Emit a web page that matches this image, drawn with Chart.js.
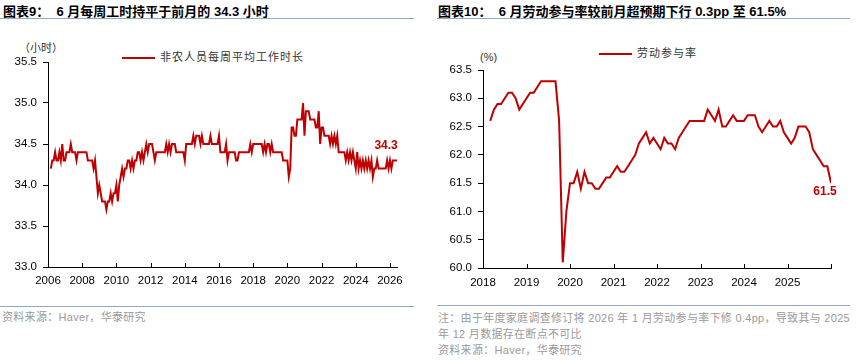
<!DOCTYPE html>
<html><head><meta charset="utf-8">
<script src="https://cdn.jsdelivr.net/npm/chart.js@4.4.1/dist/chart.umd.min.js"></script>
<style>
body{margin:0;width:860px;height:364px;background:#fff;position:relative;overflow:hidden;font-family:"Liberation Sans","Noto Sans CJK SC",sans-serif;}
.t{position:absolute;top:3px;font-family:"Liberation Sans","Noto Sans CJK SC",sans-serif;font-weight:bold;font-size:13px;color:#000;white-space:nowrap;line-height:18px;}
.rule{position:absolute;height:1px;background:#8fa9c2;}
.note{position:absolute;font-size:11px;color:#9a9a9a;white-space:nowrap;line-height:16px;letter-spacing:0.3px;}
.unit{position:absolute;font-size:11px;color:#333;white-space:nowrap;line-height:14px;}
.lg{position:absolute;font-size:11px;color:#333;white-space:nowrap;line-height:14px;letter-spacing:1px;}
.lgl{position:absolute;height:2px;background:#c00000;}
canvas{position:absolute;}
</style></head>
<body>
<div class="t" style="left:3px;">图表9：&nbsp; 6 月每周工时持平于前月的 34.3 小时</div>
<div class="rule" style="left:0;top:18px;width:414px;"></div>
<div class="t" style="left:438px;">图表10：&nbsp; 6 月劳动参与率较前月超预期下行 0.3pp 至 61.5%</div>
<div class="rule" style="left:437px;top:18px;width:413px;"></div>

<div class="unit" style="left:19px;top:41px;">（小时）</div>
<div class="lgl" style="left:122px;top:57px;width:33px;"></div>
<div class="lg" style="left:160px;top:50px;">非农人员每周平均工作时长</div>

<div class="unit" style="left:480px;top:50px;">(%)</div>
<div class="lgl" style="left:599px;top:53px;width:33px;"></div>
<div class="lg" style="left:637px;top:46px;">劳动参与率</div>

<canvas id="c1" width="410" height="250" style="left:0;top:40px;width:410px;height:250px;"></canvas>
<canvas id="c2" width="430" height="250" style="left:430px;top:40px;width:430px;height:250px;"></canvas>

<div class="rule" style="left:0;top:306px;width:414px;"></div>
<div class="note" style="left:2px;top:309px;">资料来源：Haver，华泰研究</div>
<div class="rule" style="left:437px;top:305px;width:413px;"></div>
<div class="note" style="left:438px;top:310px;">注：由于年度家庭调查修订将 2026 年 1 月劳动参与率下修 0.4pp，导致其与 2025</div>
<div class="note" style="left:438px;top:326px;">年 12 月数据存在断点不可比</div>
<div class="note" style="left:438px;top:342px;">资料来源：Haver，华泰研究</div>

<script>
// ---- Data: average weekly hours, monthly from Mar 2006 ----
const hoursStartYear = 2006, hoursStartMonth = 3;
const hoursValues = [
 34.2,34.3,34.3,34.4,34.3,34.3,34.4,34.3,34.5,34.3,
 34.3,34.4,34.4,34.4,34.5,34.4,34.4,34.4,34.3,34.4,34.4,34.4,
 34.4,34.4,34.4,34.4,34.3,34.3,34.3,34.3,34.2,34.3,34.1,33.9,
 34.0,33.9,33.8,33.8,33.8,33.7,33.8,33.8,33.9,33.8,33.9,33.9,
 34.0,33.8,34.0,34.1,34.2,34.1,34.2,34.2,34.3,34.3,34.2,34.3,
 34.2,34.3,34.3,34.4,34.4,34.3,34.4,34.3,34.4,34.5,34.4,34.5,
 34.5,34.5,34.4,34.3,34.4,34.4,34.4,34.4,34.4,34.4,34.4,34.5,
 34.4,34.5,34.4,34.5,34.5,34.5,34.4,34.4,34.4,34.4,34.4,34.4,
 34.3,34.5,34.5,34.5,34.5,34.5,34.6,34.5,34.6,34.6,34.6,34.5,
 34.6,34.5,34.5,34.5,34.5,34.5,34.6,34.5,34.5,34.5,34.5,34.5,
 34.6,34.4,34.4,34.4,34.4,34.5,34.3,34.4,34.4,34.4,34.4,34.4,
 34.3,34.3,34.4,34.4,34.4,34.4,34.4,34.4,34.4,34.4,34.5,34.4,
 34.5,34.5,34.5,34.5,34.5,34.5,34.5,34.4,34.5,34.4,34.5,34.5,
 34.4,34.5,34.4,34.4,34.4,34.4,34.4,34.4,34.4,34.3,34.3,34.3,
 34.3,34.1,34.2,34.7,34.7,34.6,34.6,34.8,34.8,34.8,34.8,35.0,
 34.6,34.9,34.9,34.9,34.8,34.8,34.8,34.8,34.7,34.7,34.9,34.5,
 34.7,34.7,34.6,34.6,34.6,34.6,34.5,34.6,34.5,34.6,34.5,34.6,
 34.4,34.4,34.4,34.4,34.4,34.3,34.4,34.3,34.4,34.3,34.4,34.3,
 34.2,34.4,34.2,34.3,34.2,34.3,34.2,34.3,34.2,34.3,34.2,34.3,
 34.1,34.2,34.2,34.3,34.2,34.2,34.2,34.2,34.2,34.2,34.3,34.2,
 34.3,34.2,34.3,34.3,34.3,34.3
];
const hoursYTicks = [33.0,33.5,34.0,34.5,35.0,35.5];
const hoursXTicks = [2006,2008,2010,2012,2014,2016,2018,2020,2022,2024,2026];

// ---- Data: labor force participation rate, monthly from Mar 2018 ----
const lfprStartYear = 2018, lfprStartMonth = 3;
const lfprValues = [
 62.6,62.8,62.9,62.9,63.0,63.1,63.1,63.0,62.8,62.9,
 63.0,63.1,63.1,63.2,63.3,63.3,63.3,63.3,63.3,62.6,60.1,61.0,
 61.5,61.5,61.7,61.4,61.7,61.5,61.5,61.4,61.4,61.5,61.6,61.6,
 61.7,61.8,61.7,61.7,61.8,61.9,62.0,62.2,62.3,62.4,62.2,62.3,
 62.2,62.1,62.3,62.2,62.2,62.1,62.3,62.4,62.5,62.6,62.6,62.6,
 62.6,62.6,62.8,62.7,62.6,62.8,62.5,62.5,62.6,62.7,62.6,62.6,
 62.6,62.7,62.7,62.7,62.5,62.4,62.5,62.6,62.5,62.5,62.6,62.4,
 62.3,62.2,62.3,62.5,62.5,62.5,62.4,62.1,62.0,61.9,61.8,61.8,
 61.5
];
const lfprYTicks = [60.0,60.5,61.0,61.5,62.0,62.5,63.0,63.5];
const lfprXTicks = [2018,2019,2020,2021,2022,2023,2024,2025,2026];
const lfprXLabels = ['2018','2019','2020','2021','2022','2023','2024','2025',''];

const RED = '#c00000';
const FONT = '"Liberation Sans", Arial, sans-serif';

function toPoints(startYear, startMonth, vals){
  return vals.map((v,i)=>({x: startYear + (startMonth - 1 + i)/12, y: v}));
}

const inTicks = {
  id:'inTicks',
  afterDraw(chart){
    const xs = chart.scales.x, ys = chart.scales.y, ctx = chart.ctx;
    ctx.save(); ctx.strokeStyle = '#000'; ctx.lineWidth = 1;
    xs.ticks.forEach(t=>{
      const px = Math.round(xs.getPixelForValue(t.value)) + 0.5;
      ctx.beginPath(); ctx.moveTo(px, ys.bottom); ctx.lineTo(px, ys.bottom - 4); ctx.stroke();
    });
    ctx.restore();
  }
};
const endLabel = {
  id:'endLabel',
  afterDatasetsDraw(chart, args, opts){
    const d = chart.data.datasets[0].data, last = d[d.length-1];
    const px = chart.scales.x.getPixelForValue(last.x), py = chart.scales.y.getPixelForValue(last.y);
    const ctx = chart.ctx; ctx.save();
    ctx.font = 'bold 12px ' + FONT; ctx.fillStyle = RED; ctx.textAlign = 'center'; ctx.textBaseline = 'middle';
    ctx.fillText(last.y.toFixed(1), px + opts.dx, py + opts.dy);
    ctx.restore();
  }
};

function makeChart(id, points, cfg){
  return new Chart(document.getElementById(id), {
    type:'line',
    data:{datasets:[{data:points, borderColor:RED, borderWidth:2, pointRadius:0, tension:0, fill:false}]},
    options:{
      responsive:false, animation:false, devicePixelRatio:1,
      layout:{padding:cfg.padding},
      plugins:{legend:{display:false}, tooltip:{enabled:false}, endLabel:cfg.label},
      scales:{
        x:{type:'linear', min:cfg.xmin, max:cfg.xmax,
           afterBuildTicks:s=>{s.ticks = cfg.xticks.map(v=>({value:v}));},
           afterFit:s=>{s.height = cfg.xh;},
           border:{display:true,color:'#000',width:1},
           grid:{drawOnChartArea:false, drawTicks:false},
           ticks:{padding:cfg.xpad, color:'#000', font:{family:FONT,size:11.5}, maxRotation:0, autoSkip:false,
                  callback:(v)=>cfg.xlabel(v)}},
        y:{type:'linear', min:cfg.ymin, max:cfg.ymax,
           afterBuildTicks:s=>{s.ticks = cfg.yticks.map(v=>({value:v}));},
           afterFit:s=>{s.width = cfg.yw;},
           border:{display:true,color:'#000',width:1},
           grid:{drawOnChartArea:false, drawTicks:true, tickLength:5, color:'#000'},
           ticks:{padding:6, color:'#000', font:{family:FONT,size:11.5}, callback:v=>Number(v).toFixed(1)}}
      }
    },
    plugins:[inTicks, endLabel]
  });
}

makeChart('c1', toPoints(hoursStartYear, hoursStartMonth, hoursValues), {
  padding:{left:0,right:12,top:22,bottom:0},
  xmin:2006, xmax:2026+5/12, xticks:hoursXTicks, xlabel:v=>String(v), xh:23, xpad:7,
  ymin:33, ymax:35.5, yticks:hoursYTicks, yw:48,
  label:{dx:-11, dy:-15}
});
makeChart('c2', toPoints(lfprStartYear, lfprStartMonth, lfprValues), {
  padding:{left:0,right:29,top:30,bottom:0},
  xmin:2018, xmax:2026, xticks:lfprXTicks, xlabel:v=>lfprXLabels[lfprXTicks.indexOf(v)], xh:22, xpad:8,
  ymin:60, ymax:63.5, yticks:lfprYTicks, yw:53,
  label:{dx:-6, dy:9}
});
</script>
</body></html>
